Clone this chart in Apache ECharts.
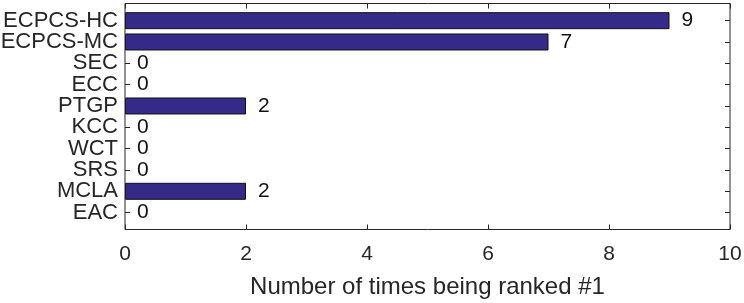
<!DOCTYPE html>
<html>
<head>
<meta charset="utf-8">
<script src="https://cdn.jsdelivr.net/npm/echarts@6/dist/echarts.min.js"></script>
<style>
html,body{margin:0;padding:0;background:#fff;}
#chart{width:744px;height:303px;}
</style>
</head>
<body>
<div id="chart"></div>
<script>
const categories = ['ECPCS-HC','ECPCS-MC','SEC','ECC','PTGP','KCC','WCT','SRS','MCLA','EAC'];
const counts = [9, 7, 0, 0, 2, 0, 0, 0, 2, 0];
const xMin = 0, xMax = 10, xStep = 2;
const xName = 'Number of times being ranked #1';

const FONT = '"Liberation Sans", Arial, Helvetica, sans-serif';
const INK = '#262626';

const chart = echarts.init(document.getElementById('chart'), null, {renderer: 'canvas'});
const tickStyle = {color: INK, width: 1};
const barData = counts.map(v => ({value: v, itemStyle: {borderWidth: v > 0 ? 1 : 0}}));
chart.setOption({
  animation: false,
  backgroundColor: '#fff',
  grid: [
    {left: 125, right: 14, top: 3.5, bottom: 73.5, show: true, borderColor: INK, borderWidth: 1,
     backgroundColor: 'transparent', z: 3, outerBoundsMode: 'none', containLabel: false},
    {left: 125, right: 14, top: 10, bottom: 79.7, outerBoundsMode: 'none', containLabel: false}
  ],
  xAxis: [
    {gridIndex: 0, type: 'value', min: xMin, max: xMax, interval: xStep, position: 'bottom',
     axisLine: {show: false}, splitLine: {show: false},
     axisTick: {show: true, inside: true, length: 5, lineStyle: tickStyle},
     axisLabel: {show: true, margin: 14, fontSize: 21, color: INK, fontFamily: FONT},
     name: xName, nameLocation: 'middle', nameGap: 46,
     nameTextStyle: {fontSize: 24, color: INK, fontFamily: FONT}},
    {gridIndex: 0, type: 'value', min: xMin, max: xMax, interval: xStep, position: 'top',
     axisLine: {show: false}, splitLine: {show: false},
     axisTick: {show: true, inside: true, length: 5, lineStyle: tickStyle},
     axisLabel: {show: false}},
    {gridIndex: 1, type: 'value', min: xMin, max: xMax, show: false}
  ],
  yAxis: [
    {gridIndex: 0, type: 'value', show: false},
    {gridIndex: 1, type: 'category', data: categories, inverse: true, position: 'left',
     axisLine: {show: false},
     axisTick: {show: true, inside: true, alignWithLabel: true, interval: 0, length: 5, lineStyle: tickStyle},
     axisLabel: {interval: 0, margin: 7, fontSize: 22, color: INK, fontFamily: FONT}},
    {gridIndex: 1, type: 'category', data: categories, inverse: true, position: 'right',
     axisLine: {show: false},
     axisTick: {show: true, inside: true, alignWithLabel: true, interval: 0, length: 5, lineStyle: tickStyle},
     axisLabel: {show: false}}
  ],
  series: [{
    type: 'bar', xAxisIndex: 2, yAxisIndex: 1, data: barData, barWidth: 17,
    itemStyle: {color: '#352A87', borderColor: '#111', borderWidth: 1},
    label: {show: true, position: 'right', distance: 12, fontSize: 21, color: '#111', fontFamily: FONT}
  }]
});
</script>
</body>
</html>
